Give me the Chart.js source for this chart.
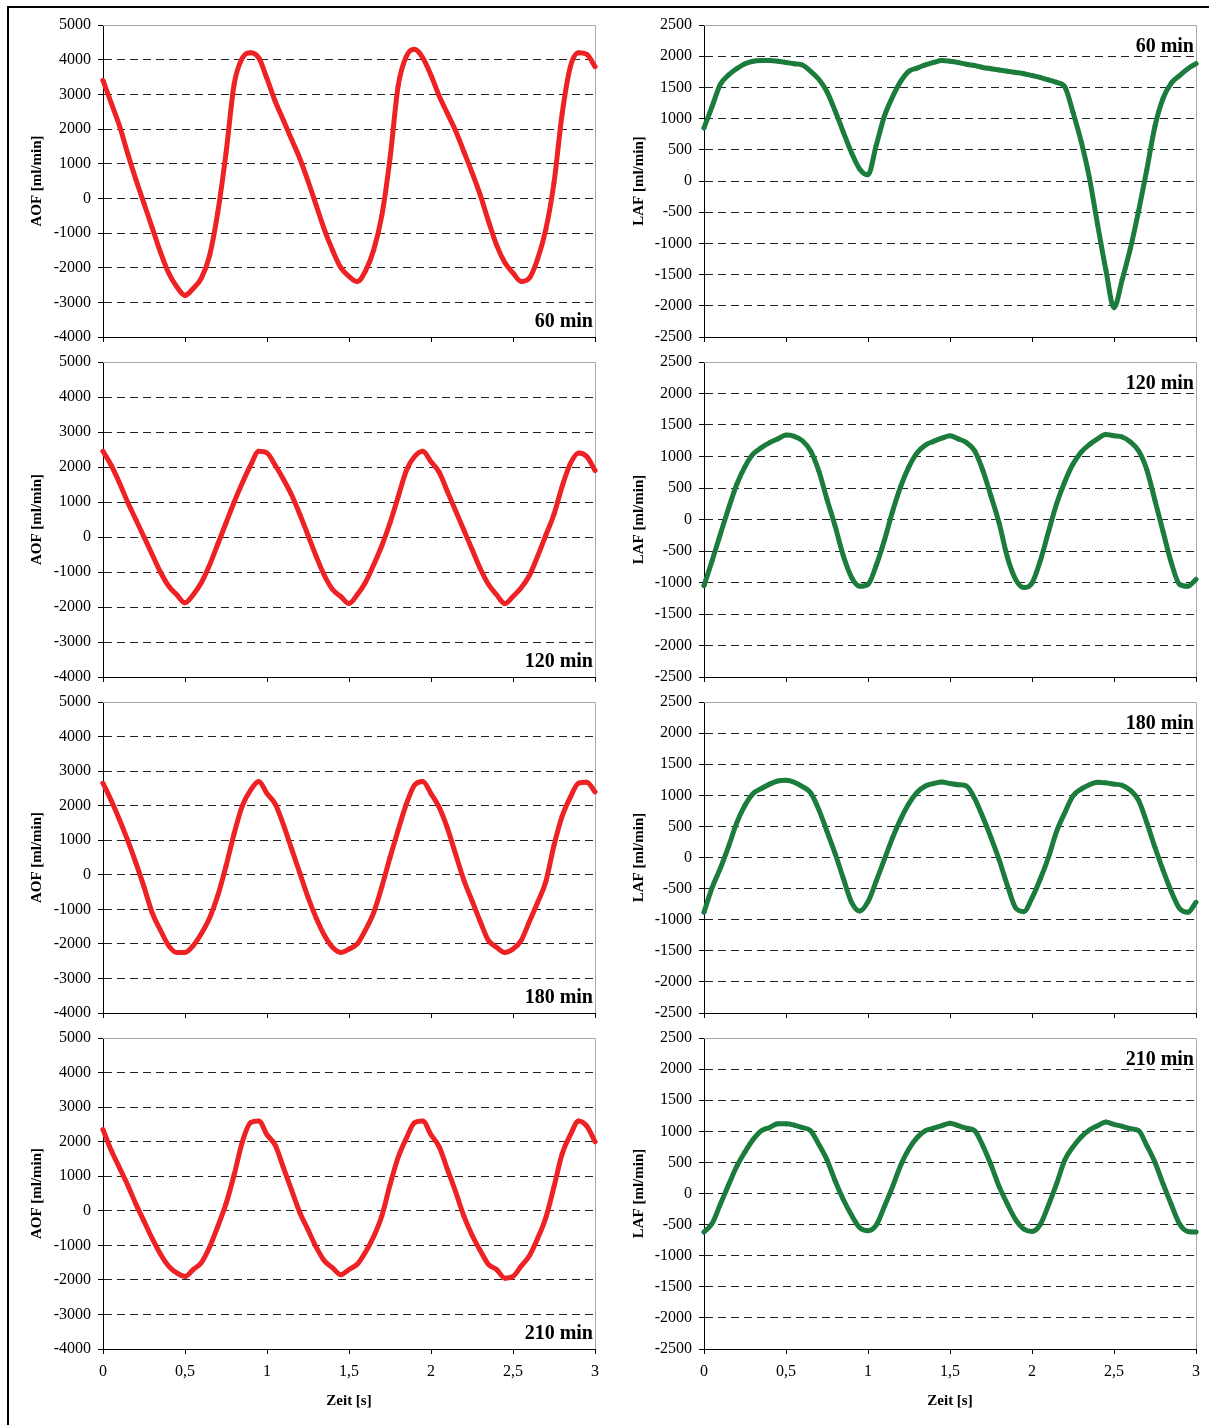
<!DOCTYPE html>
<html>
<head>
<meta charset="utf-8">
<script src="https://cdn.jsdelivr.net/npm/chart.js@4.4.0/dist/chart.umd.min.js"></script>
<style>
  body { margin: 0; background: #fff; }
  #page { position: relative; width: 1209px; height: 1425px; overflow: hidden; }
  #frame { position: absolute; left: 7px; top: 6px; width: 1300px; height: 1500px; border: 2px solid #000; }
  canvas { position: absolute; }
  .tag { position: absolute; width: 120px; text-align: right; white-space: nowrap;
         font: bold 20px "Liberation Serif", "Times New Roman", serif; line-height: 20px; }
</style>
</head>
<body>
<div id="page"><div id="frame"></div></div>
<script>
// time axis, 0..3 s
const time = [0, 0.05, 0.1, 0.15, 0.2, 0.25, 0.3, 0.35, 0.4, 0.45, 0.5, 0.55, 0.6, 0.65, 0.7, 0.75, 0.8, 0.85, 0.9, 0.95,
  1, 1.05, 1.1, 1.15, 1.2, 1.25, 1.3, 1.35, 1.4, 1.45, 1.5, 1.55, 1.6, 1.65, 1.7, 1.75, 1.8, 1.85, 1.9, 1.95,
  2, 2.05, 2.1, 2.15, 2.2, 2.25, 2.3, 2.35, 2.4, 2.45, 2.5, 2.55, 2.6, 2.65, 2.7, 2.75, 2.8, 2.85, 2.9, 2.95, 3];

// AOF [ml/min], left column
const aof60 = [3400, 2750, 2100, 1300, 550, -150, -850, -1550, -2150, -2550, -2800, -2600, -2300, -1650, -400, 1300, 3300, 4050, 4200, 4050,
  3450, 2800, 2250, 1700, 1150, 500, -200, -900, -1500, -2000, -2250, -2400, -2100, -1500, -500, 1150, 3250, 4100, 4300, 4050,
  3550, 2950, 2450, 1950, 1350, 750, 100, -650, -1350, -1850, -2150, -2400, -2300, -1750, -900, 450, 2450, 3800, 4200, 4150, 3800];
const aof120 = [2450, 2050, 1550, 1000, 500, 0, -500, -1000, -1400, -1650, -1880, -1650, -1300, -800, -200, 400, 1000, 1550, 2050, 2450,
  2400, 2050, 1650, 1200, 650, 50, -550, -1100, -1500, -1700, -1900, -1650, -1300, -800, -250, 400, 1150, 1900, 2300, 2450,
  2150, 1850, 1300, 750, 200, -350, -900, -1350, -1650, -1900, -1700, -1450, -1100, -550, 50, 650, 1450, 2100, 2400, 2300, 1900];
const aof180 = [2650, 2150, 1600, 1000, 350, -350, -1100, -1600, -2050, -2250, -2250, -2050, -1700, -1250, -600, 250, 1200, 2000, 2450, 2700,
  2350, 2050, 1450, 750, 50, -650, -1250, -1750, -2100, -2250, -2150, -2000, -1600, -1100, -350, 500, 1300, 2050, 2600, 2700,
  2350, 1950, 1350, 600, -150, -750, -1350, -1900, -2100, -2250, -2150, -1900, -1350, -800, -200, 850, 1700, 2250, 2650, 2680, 2400];
const aof210 = [2350, 1750, 1250, 750, 200, -300, -800, -1250, -1600, -1800, -1900, -1700, -1500, -1050, -450, 200, 1050, 2000, 2550, 2600,
  2200, 1900, 1250, 600, -50, -550, -1050, -1450, -1650, -1850, -1700, -1550, -1200, -750, -150, 750, 1550, 2100, 2550, 2600,
  2200, 1850, 1200, 550, -150, -700, -1150, -1550, -1700, -1950, -1900, -1600, -1300, -800, -200, 700, 1650, 2200, 2600, 2450, 2000];

// LAF [ml/min], right column
const laf60 = [850, 1200, 1550, 1700, 1800, 1880, 1920, 1930, 1930, 1920, 1900, 1880, 1860, 1760, 1630, 1430, 1120, 780, 450, 190,
  100, 570, 1040, 1350, 1600, 1760, 1810, 1860, 1900, 1930, 1920, 1900, 1870, 1850, 1820, 1800, 1780, 1760, 1740, 1720,
  1690, 1660, 1620, 1580, 1510, 1100, 630, 50, -700, -1420, -2030, -1580, -1080, -480, 180, 880, 1330, 1570, 1690, 1800, 1880];
const laf120 = [-1050, -650, -230, 180, 560, 840, 1040, 1140, 1220, 1280, 1340, 1320, 1250, 1090, 770, 320, -110, -580, -920, -1060,
  -1030, -730, -330, 130, 530, 840, 1060, 1180, 1240, 1290, 1330, 1280, 1220, 1090, 780, 370, -60, -600, -950, -1080,
  -1010, -660, -200, 250, 600, 880, 1070, 1190, 1280, 1350, 1330, 1310, 1230, 1090, 790, 300, -200, -690, -1030, -1060, -950];
const laf180 = [-880, -480, -170, 180, 560, 840, 1030, 1110, 1180, 1230, 1240, 1210, 1140, 1040, 770, 420, 60, -340, -720, -860,
  -710, -380, -30, 320, 620, 870, 1050, 1150, 1190, 1215, 1190, 1170, 1150, 950, 650, 320, -40, -450, -810, -870,
  -650, -350, 0, 420, 720, 990, 1100, 1170, 1210, 1200, 1180, 1160, 1080, 920, 560, 160, -210, -550, -820, -880, -720];
const laf210 = [-620, -480, -170, 140, 440, 670, 870, 1010, 1060, 1120, 1120, 1100, 1060, 1010, 790, 540, 200, -100, -350, -550,
  -600, -510, -210, 110, 460, 720, 900, 1010, 1050, 1090, 1130, 1090, 1050, 1010, 770, 460, 110, -170, -420, -570,
  -610, -500, -190, 160, 540, 750, 910, 1020, 1090, 1150, 1110, 1080, 1040, 1010, 770, 500, 150, -180, -490, -610, -620];

const panelLabels = ["60 min", "120 min", "180 min", "210 min"];
const aofTicks = [-4000, 5000, 1000];   // min, max, step
const lafTicks = [-2500, 2500, 500];

Chart.defaults.font.family = '"Liberation Serif", "Times New Roman", serif';
Chart.defaults.color = "#000";

// plot area frame (top + right), light grey like the original
const plotFrame = {
  id: "plotFrame",
  beforeDatasetsDraw(chart) {
    const { ctx, chartArea: a } = chart;
    ctx.save();
    ctx.strokeStyle = "#a8a8a8";
    ctx.lineWidth = 1;
    ctx.beginPath();
    ctx.moveTo(a.left, a.top + 0.5);
    ctx.lineTo(a.right + 0.5, a.top + 0.5);
    ctx.lineTo(a.right + 0.5, a.bottom);
    ctx.stroke();
    ctx.restore();
  }
};

const PAD_TOP = 18;
const PAD_RIGHT = 14;

const rows = [
  { top: 25, h: 312 },
  { top: 362, h: 315 },
  { top: 702, h: 311 },
  { top: 1038, h: 311 }
];
const cols = [
  { canvasLeft: 20, plotLeft: 103, plotRight: 595, title: "AOF [ml/min]", titlePad: 8,
    color: "rgb(238,34,36)", series: [aof60, aof120, aof180, aof210], ticks: aofTicks, tagBottom: true },
  { canvasLeft: 620, plotLeft: 704, plotRight: 1196, title: "LAF [ml/min]", titlePad: 10,
    color: "rgb(27,124,60)", series: [laf60, laf120, laf180, laf210], ticks: lafTicks, tagBottom: false }
];

const page = document.getElementById("page");

cols.forEach(function (col) {
  rows.forEach(function (row, r) {
    const last = r === rows.length - 1;
    const xHeight = last ? 61 : 18;
    const [yMin, yMax, yStep] = col.ticks;
    const values = col.series[r];

    const canvas = document.createElement("canvas");
    const w = col.plotRight + PAD_RIGHT - col.canvasLeft;
    const h = PAD_TOP + row.h + xHeight;
    canvas.width = w;
    canvas.height = h;
    canvas.style.left = col.canvasLeft + "px";
    canvas.style.top = (row.top - PAD_TOP) + "px";
    canvas.style.width = w + "px";
    canvas.style.height = h + "px";
    page.appendChild(canvas);

    new Chart(canvas.getContext("2d"), {
      type: "line",
      data: {
        datasets: [{
          data: time.map((t, i) => ({ x: t, y: values[i] })),
          borderColor: col.color,
          backgroundColor: col.color,
          borderWidth: 5,
          borderJoinStyle: "round",
          borderCapStyle: "round",
          pointStyle: "rectRot",
          pointRadius: 2.8,
          pointBorderWidth: 0,
          cubicInterpolationMode: "monotone",
          fill: false,
          clip: 8
        }]
      },
      options: {
        responsive: false,
        animation: false,
        devicePixelRatio: 1,
        layout: { padding: { top: PAD_TOP, right: PAD_RIGHT, left: 0, bottom: 0 } },
        plugins: { legend: { display: false }, tooltip: { enabled: false } },
        scales: {
          x: {
            type: "linear",
            min: 0,
            max: 3,
            ticks: {
              stepSize: 0.5,
              padding: 8,
              maxRotation: 0,
              autoSkip: false,
              font: { size: 16 },
              color: last ? "#000" : "rgba(0,0,0,0)",
              callback: v => String(v).replace(".", ",")
            },
            grid: { drawOnChartArea: false, drawTicks: true, tickLength: 5, tickColor: "#000" },
            border: { display: true, color: "#000", width: 1 },
            title: {
              display: last,
              text: "Zeit [s]",
              font: { size: 15, weight: "bold" },
              padding: { top: 0, bottom: 0 }
            },
            afterFit: s => { s.height = xHeight; }
          },
          y: {
            min: yMin,
            max: yMax,
            ticks: { stepSize: yStep, padding: 7, font: { size: 16 }, callback: v => String(v) },
            grid: {
              color: c => (c.tick && (c.tick.value === yMin || c.tick.value === yMax)) ? "rgba(0,0,0,0)" : "#222",
              lineWidth: 1,
              tickLength: 5,
              tickColor: "#000",
              tickBorderDash: []
            },
            border: { display: true, color: "#000", width: 1, dash: [8, 5] },
            title: {
              display: true,
              text: col.title,
              font: { size: 15, weight: "bold" },
              padding: { top: col.titlePad, bottom: 0 }
            },
            afterFit: s => { s.width = col.plotLeft - col.canvasLeft; }
          }
        }
      },
      plugins: [plotFrame]
    });

    // "60 min" etc.
    const tag = document.createElement("div");
    tag.className = "tag";
    tag.textContent = panelLabels[r];
    tag.style.left = (col.plotRight - 2 - 120) + "px";
    tag.style.top = (col.tagBottom ? row.top + row.h - 10 - 16.75 : row.top + 10.25) + "px";
    page.appendChild(tag);
  });
});
</script>
</body>
</html>
